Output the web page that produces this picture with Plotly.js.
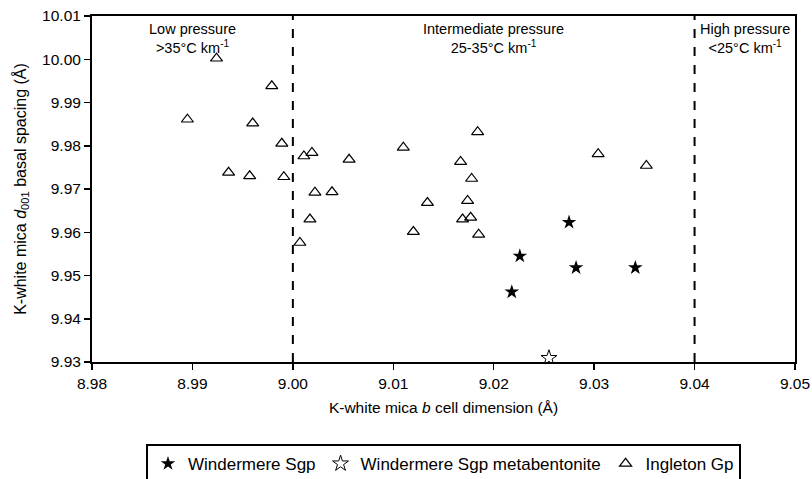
<!DOCTYPE html>
<html><head><meta charset="utf-8">
<script src="https://cdn.plot.ly/plotly-3.0.1.min.js"></script>
<style>html,body{margin:0;padding:0;background:#fff}#chart{width:812px;height:479px}</style>
</head><body><div id="chart"></div>
<script>
// Windermere Sgp (filled stars)
const windX = [9.0226, 9.0218, 9.0275, 9.0282, 9.0341];
const windY = [9.9545, 9.9462, 9.9623, 9.9518, 9.9518];
// Windermere Sgp metabentonite (open star)
const metaX = [9.0255];
const metaY = [9.9309];
// Ingleton Gp (open triangles)
const ingX = [8.9895, 8.9924, 8.9979, 8.9960, 8.9989, 8.9936, 8.9957, 8.9991,
              9.0011, 9.0019, 9.0056, 9.0110, 9.0184, 9.0167, 9.0178,
              9.0022, 9.0039, 9.0017, 9.0007, 9.0134, 9.0120, 9.0174, 9.0169, 9.0177, 9.0185,
              9.0304, 9.0352];
const ingY = [9.9861, 10.0002, 9.9938, 9.9852, 9.9805, 9.9738, 9.9730, 9.9728,
              9.9776, 9.9784, 9.9768, 9.9796, 9.9832, 9.9763, 9.9724,
              9.9692, 9.9693, 9.9630, 9.9576, 9.9668, 9.9601, 9.9673, 9.9630, 9.9634, 9.9595,
              9.9781, 9.9754];
// Pressure regime boundaries and labels
const boundaries = [9.00, 9.04];
const regimeX = [8.99, 9.02, 9.045];
const regimeText = ["Low pressure<br>&gt;35°C km<sup>-1</sup>",
                    "Intermediate pressure<br>25-35°C km<sup>-1</sup>",
                    "High pressure<br>&lt;25°C km<sup>-1</sup>"];

const traces = [
  {x: windX, y: windY, type: 'scatter', mode: 'markers', name: 'Windermere Sgp',
   marker: {symbol: 'star', size: 11, color: 'black'}},
  {x: metaX, y: metaY, type: 'scatter', mode: 'markers', name: 'Windermere Sgp metabentonite',
   marker: {symbol: 'star-open', size: 12, color: 'black', line: {width: 1}}},
  {x: ingX, y: ingY, type: 'scatter', mode: 'markers', name: 'Ingleton Gp',
   marker: {symbol: 'triangle-up-open', size: 10.5, color: 'black', line: {width: 1.2}}}
];

const shapes = boundaries.map(b => ({type: 'line', xref: 'x', yref: 'paper', x0: b, x1: b, y0: 0, y1: 1,
  line: {color: 'black', width: 2, dash: 'dash'}}));

const annotations = regimeX.map((x, i) => ({x: x, y: 1, xref: 'x', yref: 'paper', yanchor: 'top', yshift: -3,
  text: regimeText[i], showarrow: false, align: 'center', font: {size: 14.5, color: 'black'}}));

const axisCommon = {showline: true, linecolor: 'black', linewidth: 2, mirror: true, ticks: 'outside',
  ticklen: 6, tickwidth: 1.5, tickcolor: 'black', showgrid: false, zeroline: false,
  tickfont: {size: 15.5, color: 'black'}, tickformat: '.2f', automargin: false};

const layout = {
  width: 812, height: 479,
  margin: {l: 92, r: 17, t: 16, b: 117},
  font: {family: 'Liberation Sans, Arial, sans-serif', color: 'black'},
  paper_bgcolor: 'white', plot_bgcolor: 'white',
  xaxis: Object.assign({}, axisCommon, {range: [8.98, 9.05], dtick: 0.01, tick0: 8.98,
    title: {text: 'K-white mica <i>b</i> cell dimension (Å)', font: {size: 15.5}, standoff: 12}}),
  yaxis: Object.assign({}, axisCommon, {range: [9.93, 10.01], dtick: 0.01, tick0: 9.93,
    title: {text: 'K-white mica <i>d</i><sub>001</sub> basal spacing (Å)', font: {size: 16}, standoff: 12}}),
  shapes: shapes,
  annotations: annotations,
  showlegend: true,
  legend: {orientation: 'h', xref: 'paper', x: 0.5, xanchor: 'center', yref: 'container', y: 0.073, yanchor: 'top',
    bordercolor: 'black', borderwidth: 2, font: {size: 17, color: 'black'}}
};

Plotly.newPlot('chart', traces, layout, {displayModeBar: false, staticPlot: true});
</script></body></html>
